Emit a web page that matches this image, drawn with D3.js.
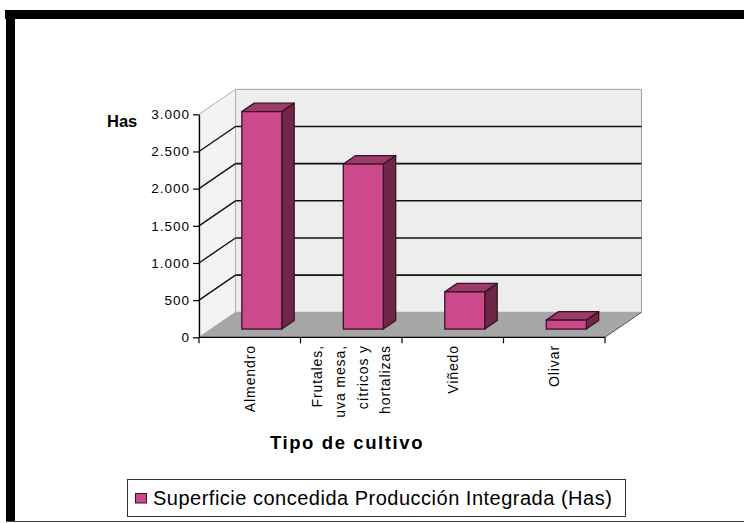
<!DOCTYPE html>
<html>
<head>
<meta charset="utf-8">
<script src="https://cdn.jsdelivr.net/npm/d3@7"></script>
<style>
  html, body { margin: 0; padding: 0; background: #ffffff; }
  svg { display: block; }
  text { font-family: "Liberation Sans", Arial, sans-serif; fill: #000; }
</style>
</head>
<body>
<svg id="chart" width="744" height="523"></svg>
<script>
// ---- data ----
const categories = ["Almendro", "Frutales, uva mesa, cítricos y hortalizas", "Viñedo", "Olivar"];
const categoryLines = [["Almendro"], ["Frutales,", "uva mesa,", "cítricos y", "hortalizas"], ["Viñedo"], ["Olivar"]];
const values = [2925, 2220, 500, 120];
const yTicks = [0, 500, 1000, 1500, 2000, 2500, 3000];
const seriesName = "Superficie concedida Producción Integrada (Has)";
const yTitle = "Has";
const xTitle = "Tipo de cultivo";

// ---- layout ----
(function () {
const svg = d3.select("#chart");
const pLeft = 199, pRight = 605, pBottom = 337.3, pTop = 114.3;
const dx = 36.5, dy = -25;      // depth of the 3D box
const t1 = 0.33, t2 = 0.67;     // bar depth position
const colFront = "#cc4a8c", colSide = "#6e2748", colTop = "#9c3a6a", colEdge = "#3a1226";

const x = d3.scaleBand().domain(categories).range([pLeft, pRight]).padding(0);
const y = d3.scaleLinear().domain([0, 3000]).range([pBottom, pTop]);
const fmt = d3.formatLocale({decimal: ",", thousands: ".", grouping: [3], currency: ["", "€"]}).format(",");

// frame
svg.append("rect").attr("x", 5).attr("y", 10).attr("width", 739).attr("height", 9).attr("fill", "#000");
svg.append("rect").attr("x", 6).attr("y", 10).attr("width", 9).attr("height", 512).attr("fill", "#000");
svg.append("line").attr("x1", 6).attr("x2", 744).attr("y1", 521.5).attr("y2", 521.5).attr("stroke", "#444").attr("stroke-width", 1);

const ymax = y(3000), y0 = y(0);
// back wall
svg.append("polygon")
  .attr("points", [[pLeft + dx, ymax + dy], [pRight + dx, ymax + dy], [pRight + dx, y0 + dy], [pLeft + dx, y0 + dy]].join(" "))
  .attr("fill", "#ededed").attr("stroke", "#a0a0a0").attr("stroke-width", 1);
// side wall
svg.append("polygon")
  .attr("points", [[pLeft, ymax], [pLeft + dx, ymax + dy], [pLeft + dx, y0 + dy], [pLeft, y0]].join(" "))
  .attr("fill", "#f4f2f3").attr("stroke", "#b0b0b0").attr("stroke-width", 1);
// floor
svg.append("polygon")
  .attr("points", [[pLeft, y0], [pLeft + dx, y0 + dy], [pRight + dx, y0 + dy], [pRight, y0]].join(" "))
  .attr("fill", "#a6a6a6");
svg.append("line").attr("x1", pRight).attr("y1", y0).attr("x2", pRight + dx).attr("y2", y0 + dy)
  .attr("stroke", "#555").attr("stroke-width", 1);

// gridlines
const grid = yTicks.filter(v => v > 0 && v < 3000);
svg.append("g").selectAll("line").data(grid).join("line")
  .attr("x1", pLeft + dx).attr("x2", pRight + dx)
  .attr("y1", d => y(d) + dy).attr("y2", d => y(d) + dy)
  .attr("stroke", "#111").attr("stroke-width", 1.6);
svg.append("g").selectAll("line").data(grid).join("line")
  .attr("x1", pLeft).attr("x2", pLeft + dx)
  .attr("y1", d => y(d)).attr("y2", d => y(d) + dy)
  .attr("stroke", "#111").attr("stroke-width", 1.4);

// y axis
const yAxis = svg.append("g").attr("transform", `translate(${pLeft},0)`)
  .call(d3.axisLeft(y).tickValues(yTicks).tickFormat(fmt).tickSize(6).tickSizeOuter(0).tickPadding(3));
yAxis.select(".domain").attr("stroke", "#000").attr("stroke-width", 1.3);
yAxis.selectAll(".tick line").attr("stroke", "#000").attr("stroke-width", 1.2);
yAxis.selectAll(".tick text")
  .style("font-family", "'Liberation Sans', Arial, sans-serif")
  .style("font-size", "13.5px").style("letter-spacing", "1px").attr("fill", "#000");

// x axis line and boundary ticks
svg.append("line").attr("x1", pLeft).attr("x2", pRight).attr("y1", y0).attr("y2", y0)
  .attr("stroke", "#000").attr("stroke-width", 1.3);
const bounds = categories.map(c => x(c)).concat([x.range()[1]]);
svg.append("g").selectAll("line").data(bounds).join("line")
  .attr("x1", d => d).attr("x2", d => d).attr("y1", y0).attr("y2", y0 + 6)
  .attr("stroke", "#000").attr("stroke-width", 1.2);

// bars
const barW = x.bandwidth() * 0.394;
const ddx = dx * (t2 - t1), ddy = dy * (t2 - t1);
const bars = svg.append("g").selectAll("g").data(categories.map((c, i) => ({c, v: values[i]}))).join("g");
bars.each(function(d) {
  const g = d3.select(this);
  const fx = x(d.c) + (x.bandwidth() - barW) / 2 + dx * t1;
  const ft = y(d.v) + dy * t1;
  const fb = y(0) + dy * t1;
  g.append("polygon")
    .attr("points", [[fx + barW, ft], [fx + barW + ddx, ft + ddy], [fx + barW + ddx, fb + ddy], [fx + barW, fb]].join(" "))
    .attr("fill", colSide).attr("stroke", colEdge).attr("stroke-width", 1.3).attr("stroke-linejoin", "round");
  g.append("polygon")
    .attr("points", [[fx, ft], [fx + ddx, ft + ddy], [fx + barW + ddx, ft + ddy], [fx + barW, ft]].join(" "))
    .attr("fill", colTop).attr("stroke", colEdge).attr("stroke-width", 1.3).attr("stroke-linejoin", "round");
  g.append("rect")
    .attr("x", fx).attr("y", ft).attr("width", barW).attr("height", fb - ft)
    .attr("fill", colFront).attr("stroke", colEdge).attr("stroke-width", 1.3);
});

// category labels (rotated)
const lineGap = 22.8;
categories.forEach((c, i) => {
  const lines = categoryLines[i];
  const cx = x(c) + x.bandwidth() / 2;
  lines.forEach((ln, k) => {
    const lx = cx + (k - (lines.length - 1) / 2) * lineGap;
    svg.append("text")
      .attr("transform", `translate(${lx},345) rotate(-90)`)
      .attr("text-anchor", "end").attr("dy", "0.35em")
      .style("font-size", "14px").style("letter-spacing", "0.9px")
      .text(ln);
  });
});

// titles
svg.append("text").attr("x", 107).attr("y", 127.3)
  .style("font-size", "16.5px").style("font-weight", "bold").text(yTitle);
svg.append("text").attr("x", 347).attr("y", 449.3).attr("text-anchor", "middle")
  .style("font-size", "18.5px").style("font-weight", "bold").style("letter-spacing", "1.6px").text(xTitle);

// legend
const leg = svg.append("g");
leg.append("rect").attr("x", 127.5).attr("y", 479.5).attr("width", 498).attr("height", 37)
  .attr("fill", "#fff").attr("stroke", "#333").attr("stroke-width", 1);
leg.append("rect").attr("x", 135.5).attr("y", 493.5).attr("width", 11).attr("height", 9.5)
  .attr("fill", colFront).attr("stroke", colEdge).attr("stroke-width", 1);
leg.append("text").attr("x", 153).attr("y", 504.5)
  .style("font-size", "20px").style("letter-spacing", "0.5px").text(seriesName);
})();
</script>
</body>
</html>
